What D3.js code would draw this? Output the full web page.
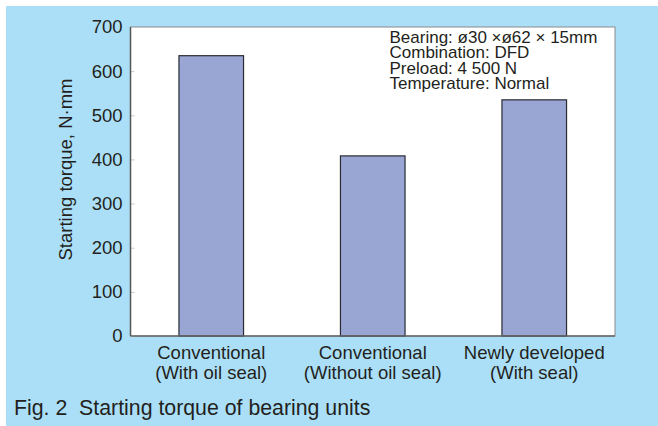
<!DOCTYPE html>
<html><head><meta charset="utf-8">
<script src="https://cdn.jsdelivr.net/npm/d3@7"></script>
<style>
html,body{margin:0;padding:0;background:#fff;}
svg{display:block;}
text{font-family:"Liberation Sans",Arial,Helvetica,sans-serif;fill:#231f20;}
</style></head>
<body>
<script>
const categories = [["Conventional","(With oil seal)"],["Conventional","(Without oil seal)"],["Newly developed","(With seal)"]];
const values = [635, 408, 535];
const yTicks = [0,100,200,300,400,500,600,700];
const notes = ["Bearing: \u00f830 \u00d7\u00f862 \u00d7 15mm","Combination: DFD","Preload: 4 500 N","Temperature: Normal"];
const yLabel = "Starting torque, N\u00b7mm";
const caption = "Fig. 2  Starting torque of bearing units";

const W = 658, H = 426;
const L = 130.5, R = 615, T = 27, B = 336;
const svg = d3.select("body").append("svg").attr("width", W).attr("height", H);

svg.append("rect").attr("x",6).attr("y",6).attr("width",W-6).attr("height",H-6).attr("fill","#abdff8");
svg.append("rect").attr("x",L).attr("y",T).attr("width",R-L).attr("height",B-T)
  .attr("fill","#fff").attr("stroke","#8a8a8a").attr("stroke-width",1);

const x = d3.scaleBand().domain(d3.range(categories.length)).range([L,R]).paddingInner(0.6).paddingOuter(0.3);
const y = d3.scaleLinear().domain([0,700]).range([B,T]);

// y axis
const ya = svg.append("g").attr("transform",`translate(${L},0)`)
  .call(d3.axisLeft(y).tickValues(yTicks).tickSizeInner(-4).tickSizeOuter(0).tickPadding(8));
ya.select(".domain").remove();
ya.selectAll(".tick line").attr("stroke","#c8c8c8");
ya.selectAll(".tick text").attr("font-size","18.5px").attr("fill","#231f20")
  .attr("font-family","'Liberation Sans',Arial,Helvetica,sans-serif");

// bars
svg.selectAll("rect.bar").data(values).join("rect").attr("class","bar")
  .attr("x",(d,i)=>x(i)).attr("width",x.bandwidth())
  .attr("y",d=>y(d)).attr("height",d=>y(0)-y(d))
  .attr("fill","#99a5d3").attr("stroke","#2b2b33").attr("stroke-width",1.2);

// axis lines
svg.append("line").attr("x1",L).attr("x2",L).attr("y1",T).attr("y2",B).attr("stroke","#555").attr("stroke-width",1.5);
svg.append("line").attr("x1",L).attr("x2",R).attr("y1",B).attr("y2",B).attr("stroke","#666").attr("stroke-width",1.5);

// x labels
const xl = svg.append("g").selectAll("text").data(categories).join("text")
  .attr("x",(d,i)=>x(i)+x.bandwidth()/2).attr("y",358.5)
  .attr("text-anchor","middle").attr("font-size","18.5px");
xl.selectAll("tspan").data(d=>d).join("tspan")
  .attr("x",function(){return this.parentNode.getAttribute("x");})
  .attr("dy",(d,i)=>i===0?0:20.5).text(d=>d);

// y label
svg.append("text").attr("transform","translate(72,169.5) rotate(-90)")
  .attr("text-anchor","middle").attr("font-size","18.5px").text(yLabel);

// notes (one text block, tight leading as in the reference)
const nt = svg.append("text").attr("x",389.5).attr("y",42.5).attr("font-size","17px");
nt.selectAll("tspan").data(notes).join("tspan")
  .attr("x",389.5).attr("dy",(d,i)=>i===0?0:15.6).text(d=>d);

// caption
svg.append("text").attr("x",14).attr("y",414.5).attr("font-size","21.3px")
  .style("white-space","pre").text(caption);
</script>
</body></html>
